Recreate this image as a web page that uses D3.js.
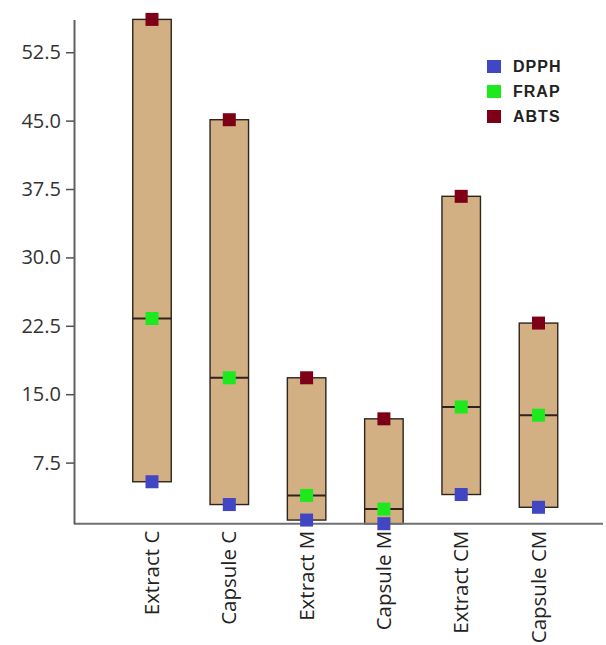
<!DOCTYPE html>
<html>
<head>
<meta charset="utf-8">
<script src="https://cdn.jsdelivr.net/npm/d3@7"></script>
<style>
  html, body { margin: 0; padding: 0; background: #fff; }
  svg { display: block; }
</style>
</head>
<body>
<svg id="chart" width="606" height="645"></svg>
<script>
// Samples and the three antioxidant assays per sample
const categories = ["Extract C", "Capsule C", "Extract M", "Capsule M", "Extract CM", "Capsule CM"];
const dpph = [5.4, 2.9, 1.2, 0.8, 4.0, 2.6];
const frap = [23.3, 16.8, 3.9, 2.4, 13.6, 12.7];
const abts = [56.1, 45.1, 16.8, 12.3, 36.7, 22.8];
const yTicks = [7.5, 15.0, 22.5, 30.0, 37.5, 45.0, 52.5];
const seriesNames = ["DPPH", "FRAP", "ABTS"];
const seriesColors = ["#4146c2", "#1ee81e", "#7d0016"];

const svg = d3.select("#chart");
const font = "'Open Sans', 'Liberation Sans', sans-serif";

const all = dpph.concat(frap, abts);
const y = d3.scaleLinear().domain(d3.extent(all)).range([523.7, 19.4]);
const x = d3.scalePoint().domain(categories).range([152, 538.5]);
const barW = 38.5;
const mk = 13;

const rows = categories.map((c, i) => ({ c, lo: dpph[i], mid: frap[i], hi: abts[i] }));

// floating range bars (DPPH to ABTS) with a line at FRAP
const g = svg.append("g");
g.selectAll("rect.bar").data(rows).join("rect")
  .attr("class", "bar")
  .attr("x", d => x(d.c) - barW / 2)
  .attr("y", d => y(d.hi))
  .attr("width", barW)
  .attr("height", d => y(d.lo) - y(d.hi))
  .attr("fill", "#d2b084")
  .attr("stroke", "#2e241c")
  .attr("stroke-width", 1.4);

g.selectAll("line.mid").data(rows).join("line")
  .attr("class", "mid")
  .attr("x1", d => x(d.c) - barW / 2)
  .attr("x2", d => x(d.c) + barW / 2)
  .attr("y1", d => y(d.mid))
  .attr("y2", d => y(d.mid))
  .attr("stroke", "#2e241c")
  .attr("stroke-width", 2);

// x axis baseline
svg.append("line")
  .attr("x1", 74).attr("x2", 603)
  .attr("y1", y.range()[0]).attr("y2", y.range()[0])
  .attr("stroke", "#707070").attr("stroke-width", 2);

// y axis
const yAxis = svg.append("g")
  .attr("transform", "translate(74,0)")
  .call(d3.axisLeft(y).tickValues(yTicks).tickFormat(d3.format(".1f")).tickSize(8).tickSizeOuter(0).tickPadding(5));
yAxis.select(".domain").attr("stroke", "#606060").attr("stroke-width", 2);
yAxis.selectAll(".tick line").attr("stroke", "#505050").attr("stroke-width", 1.5);
yAxis.selectAll(".tick text")
  .attr("fill", "#333")
  .style("font-family", font)
  .style("font-size", "20px");

// assay markers
const series = [dpph, frap, abts];
series.forEach((vals, s) => {
  svg.append("g").selectAll("rect").data(vals).join("rect")
    .attr("x", (v, i) => x(categories[i]) - mk / 2)
    .attr("y", v => y(v) - mk / 2)
    .attr("width", mk).attr("height", mk)
    .attr("fill", seriesColors[s]);
});

// category labels
svg.append("g").selectAll("text").data(categories).join("text")
  .attr("transform", d => `translate(${x(d)},${y.range()[0] + 7}) rotate(-90)`)
  .attr("text-anchor", "end")
  .attr("dy", "0.35em")
  .attr("fill", "#222")
  .style("font-family", font)
  .style("font-size", "20.5px")
  .text(d => d);

// legend
const legend = svg.append("g").attr("transform", "translate(487,60)");
seriesNames.forEach((name, i) => {
  const row = legend.append("g").attr("transform", `translate(0,${i * 25})`);
  row.append("rect").attr("width", 14).attr("height", 13).attr("fill", seriesColors[i]);
  row.append("text")
    .attr("x", 26).attr("y", 6.5).attr("dy", "0.35em")
    .attr("fill", "#222")
    .style("font-family", "'Liberation Sans', Arial, sans-serif")
    .style("font-weight", "bold")
    .style("font-size", "16px")
    .style("letter-spacing", "1px")
    .text(name);
});
</script>
</body>
</html>
